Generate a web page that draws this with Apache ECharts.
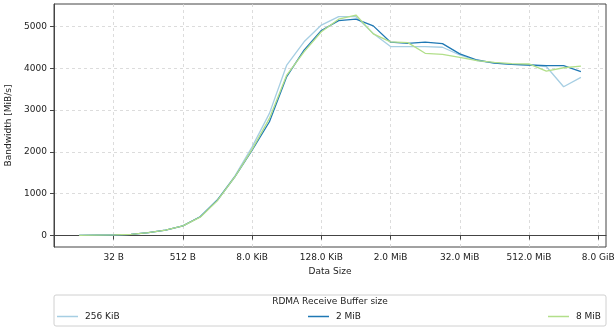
<!DOCTYPE html>
<html>
<head>
<meta charset="utf-8">
<script src="https://cdn.jsdelivr.net/npm/echarts@6/dist/echarts.min.js"></script>
<style>
html,body{margin:0;padding:0;background:#fff;}
#chart{width:616px;height:331px;}
</style>
</head>
<body>
<div id="chart"></div>
<script>
// Data sizes: 2^3 .. 2^32 bytes
const sizeExponents = [3,4,5,6,7,8,9,10,11,12,13,14,15,16,17,18,19,20,21,22,23,24,25,26,27,28,29,30,31,32];
const seriesNames = ['256 KiB', '2 MiB', '8 MiB'];
const bw256KiB = [5,10,15,30,70,130,230,450,860,1420,2120,2920,4075,4630,5030,5230,5230,4830,4515,4515,4515,4500,4315,4180,4120,4090,4075,4040,3555,3780];
const bw2MiB   = [5,10,15,30,70,130,230,450,850,1400,2040,2720,3800,4430,4900,5135,5170,5010,4620,4590,4620,4585,4340,4195,4120,4090,4075,4060,4060,3915];
const bw8MiB   = [5,10,15,30,70,130,230,440,840,1400,2060,2800,3835,4390,4870,5170,5270,4820,4630,4610,4355,4330,4260,4180,4140,4110,4100,3930,4010,4050];
const xTickExponents = [5,9,13,17,21,25,29,33];
const xTickLabels = ['32 B','512 B','8.0 KiB','128.0 KiB','2.0 MiB','32.0 MiB','512.0 MiB','8.0 GiB'];
const yTicks = [0,1000,2000,3000,4000,5000];
const colors = ['#a6cee3','#1f78b4','#b2df8a'];

const allSeries = [bw256KiB, bw2MiB, bw8MiB];
const font = 'DejaVu Sans';
const chart = echarts.init(document.getElementById('chart'), null, {renderer:'canvas'});

const legendX = [57, 308, 548];
chart.setOption({
  animation: false,
  textStyle: {fontFamily: font},
  grid: {left: 54, right: 10, top: 4, bottom: 84, containLabel: false, outerBoundsMode: 'none',
         show: true, borderColor: '#444', borderWidth: 1, backgroundColor: 'transparent'},
  xAxis: {
    type: 'value', min: 1.55, max: 33.45,
    name: 'Data Size', nameLocation: 'middle', nameGap: 19,
    nameTextStyle: {fontFamily: font, fontSize: 9, color: '#222'},
    axisLine: {show: true, lineStyle: {color: '#444', width: 1}},
    axisTick: {show: true, customValues: xTickExponents, length: 4, lineStyle: {color: '#444'}},
    axisLabel: {customValues: xTickExponents, margin: 6, fontFamily: font, fontSize: 9, color: '#222',
      formatter: v => { const i = xTickExponents.indexOf(Math.round(v)); return i >= 0 ? xTickLabels[i] : ''; }},
    splitLine: {show: true, lineStyle: {color: '#d4d4d4', type: [3,3], width: 0.8}}
  },
  yAxis: {
    type: 'value', min: -273, max: 5533,
    name: 'Bandwidth [MiB/s]', nameLocation: 'middle', nameGap: 37,
    nameTextStyle: {fontFamily: font, fontSize: 9, color: '#222'},
    axisLine: {show: true, lineStyle: {color: '#444', width: 1}},
    axisTick: {show: true, customValues: yTicks, length: 4, lineStyle: {color: '#444'}},
    axisLabel: {customValues: yTicks, margin: 7, fontFamily: font, fontSize: 9, color: '#222',
      formatter: v => String(Math.round(v))},
    splitLine: {show: true, lineStyle: {color: '#d4d4d4', type: [3,3], width: 0.8}}
  },
  legend: seriesNames.map((n, i) => ({
    data: [n], left: legendX[i], top: 312, orient: 'horizontal',
    icon: 'rect', itemWidth: 21, itemHeight: 1.5, itemGap: 0,
    textStyle: {fontFamily: font, fontSize: 9, color: '#222', padding: [0,0,0,2]},
    padding: 0, selectedMode: false
  })),
  graphic: [
    {type: 'rect', shape: {x: 54, y: 295, width: 552, height: 31, r: 2}, style: {fill: '#fff', stroke: '#d0d0d0', lineWidth: 1}, z: 0},
    {type: 'text', style: {text: 'RDMA Receive Buffer size', x: 330, y: 302, fontFamily: font, fontSize: 9, fill: '#222', align: 'center', verticalAlign: 'middle'}, z: 1}
  ],
  series: allSeries.map((arr, i) => ({
    name: seriesNames[i], type: 'line', symbol: 'none', showSymbol: false,
    data: sizeExponents.map((e, j) => [e, arr[j]]),
    lineStyle: {color: colors[i], width: 1.3}, itemStyle: {color: colors[i]}, z: 3 + i
  }))
});
</script>
</body>
</html>
